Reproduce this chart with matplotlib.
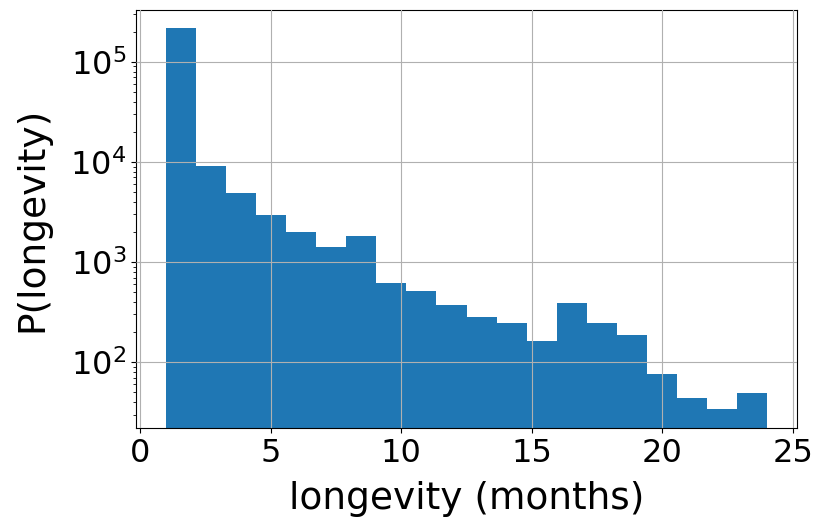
import numpy as np
import matplotlib.pyplot as plt

# histogram of longevity, 20 bins between 1 and 24 months
lo, hi, nbins = 1, 24, 20
counts = [216000, 9100, 4940, 2970, 2000, 1400, 1820, 612, 509, 375,
          285, 248, 164, 386, 248, 187, 76, 44, 34, 49]

edges = np.linspace(lo, hi, nbins + 1)
centers = (edges[:-1] + edges[1:]) / 2

fig = plt.figure(figsize=(8.17, 5.23), dpi=100)
ax = fig.add_axes([0.1665, 0.1816, 0.809, 0.7994])
ax.hist(centers, bins=edges, weights=counts, log=True, color='#1f77b4')
ax.set_ylim(22, 330000)
ax.grid(True)
ax.set_axisbelow(False)

ax.set_xlabel('longevity (months)', fontsize=27, labelpad=9)
ax.set_ylabel('P(longevity)', fontsize=27, labelpad=14)
ax.tick_params(axis='both', labelsize=23)

fig.savefig('out.png', dpi=100)
